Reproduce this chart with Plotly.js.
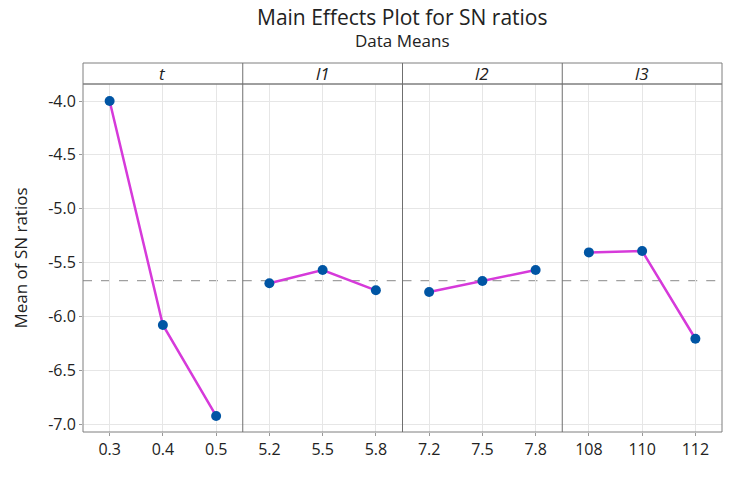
<!DOCTYPE html>
<html><head><meta charset="utf-8">
<script src="https://cdn.plot.ly/plotly-3.0.1.min.js"></script>
<style>html,body{margin:0;padding:0;background:#fff}#chart{width:740px;height:485px}</style>
</head><body><div id="chart"></div>
<script>
const factors = ["t", "l1", "l2", "l3"];
const levels = [["0.3","0.4","0.5"],["5.2","5.5","5.8"],["7.2","7.5","7.8"],["108","110","112"]];
const means = [[-4.00,-6.08,-6.925],[-5.693,-5.57,-5.758],[-5.774,-5.672,-5.57],[-5.406,-5.393,-6.208]];
const grandMean = -5.669;
const yTicks = [-4.0,-4.5,-5.0,-5.5,-6.0,-6.5,-7.0];

const font = "'Open Sans', 'Noto Sans', sans-serif";
const PH = 348;
const traces = [];
const layout = {
  width:740, height:485, margin:{l:83,r:18,t:84,b:53},
  paper_bgcolor:"#fff", plot_bgcolor:"#fff", showlegend:false,
  font:{family:font, color:"#222", size:16},
  yaxis:{range:[-7.074,-3.842], tickvals:yTicks, ticktext:yTicks.map(v=>v.toFixed(1)), showgrid:true, gridcolor:"#e6e6e6", zeroline:false, showline:false, ticks:"outside", ticklen:3, tickcolor:"#999", tickfont:{size:16}, title:{text:"Mean of SN ratios", font:{size:17}, standoff:16}},
  shapes:[],
  annotations:[
    {text:"Main Effects Plot for SN ratios", xref:"paper", yref:"paper", x:0.5, y:1+67/PH, xanchor:"center", yanchor:"middle", showarrow:false, font:{size:21, color:"#222"}},
    {text:"Data Means", xref:"paper", yref:"paper", x:0.5, y:1+43/PH, xanchor:"center", yanchor:"middle", showarrow:false, font:{size:17, color:"#222"}}
  ]
};
const H = 21/PH;
factors.forEach((f,i)=>{
  const xa = i===0 ? "x" : "x"+(i+1);
  const key = i===0 ? "xaxis" : "xaxis"+(i+1);
  traces.push({x:[1,2,3], y:means[i], xaxis:xa, yaxis:"y", type:"scatter", mode:"lines+markers",
    line:{color:"#D63ADA", width:2.5}, marker:{color:"#0055A4", size:10}, hoverinfo:"skip"});
  layout[key] = {domain:[i*0.25,(i+1)*0.25], anchor:"y", range:[0.5,3.5], tickvals:[1,2,3], ticktext:levels[i],
    showgrid:true, gridcolor:"#e6e6e6", zeroline:false, showline:false, ticks:"outside", ticklen:3, tickcolor:"#999", tickfont:{size:16}};
  layout.annotations.push({text:f, xref:"paper", yref:"paper", x:i*0.25+0.125, y:1+H/2, xanchor:"center", yanchor:"middle", showarrow:false, font:{size:17, style:"italic", color:"#222"}});
  layout.shapes.push({type:"line", xref:xa+" domain", yref:"y", x0:0, x1:1, y0:grandMean, y1:grandMean, line:{color:"#a0a0a0", width:1.2, dash:"dash"}, layer:"below"});
});
layout.shapes.push({type:"rect", xref:"paper", yref:"paper", x0:0, x1:1, y0:1, y1:1+H, line:{color:"#7f7f7f", width:1}, fillcolor:"rgba(0,0,0,0)"});
layout.shapes.push({type:"rect", xref:"paper", yref:"paper", x0:0, x1:1, y0:0, y1:1, line:{color:"#7f7f7f", width:1}, fillcolor:"rgba(0,0,0,0)"});
[0.25,0.5,0.75].forEach(p=>layout.shapes.push({type:"line", xref:"paper", yref:"paper", x0:p, x1:p, y0:0, y1:1+H, line:{color:"#6f6f6f", width:1}}));

Plotly.newPlot("chart", traces, layout, {displayModeBar:false, staticPlot:true});
</script></body></html>
